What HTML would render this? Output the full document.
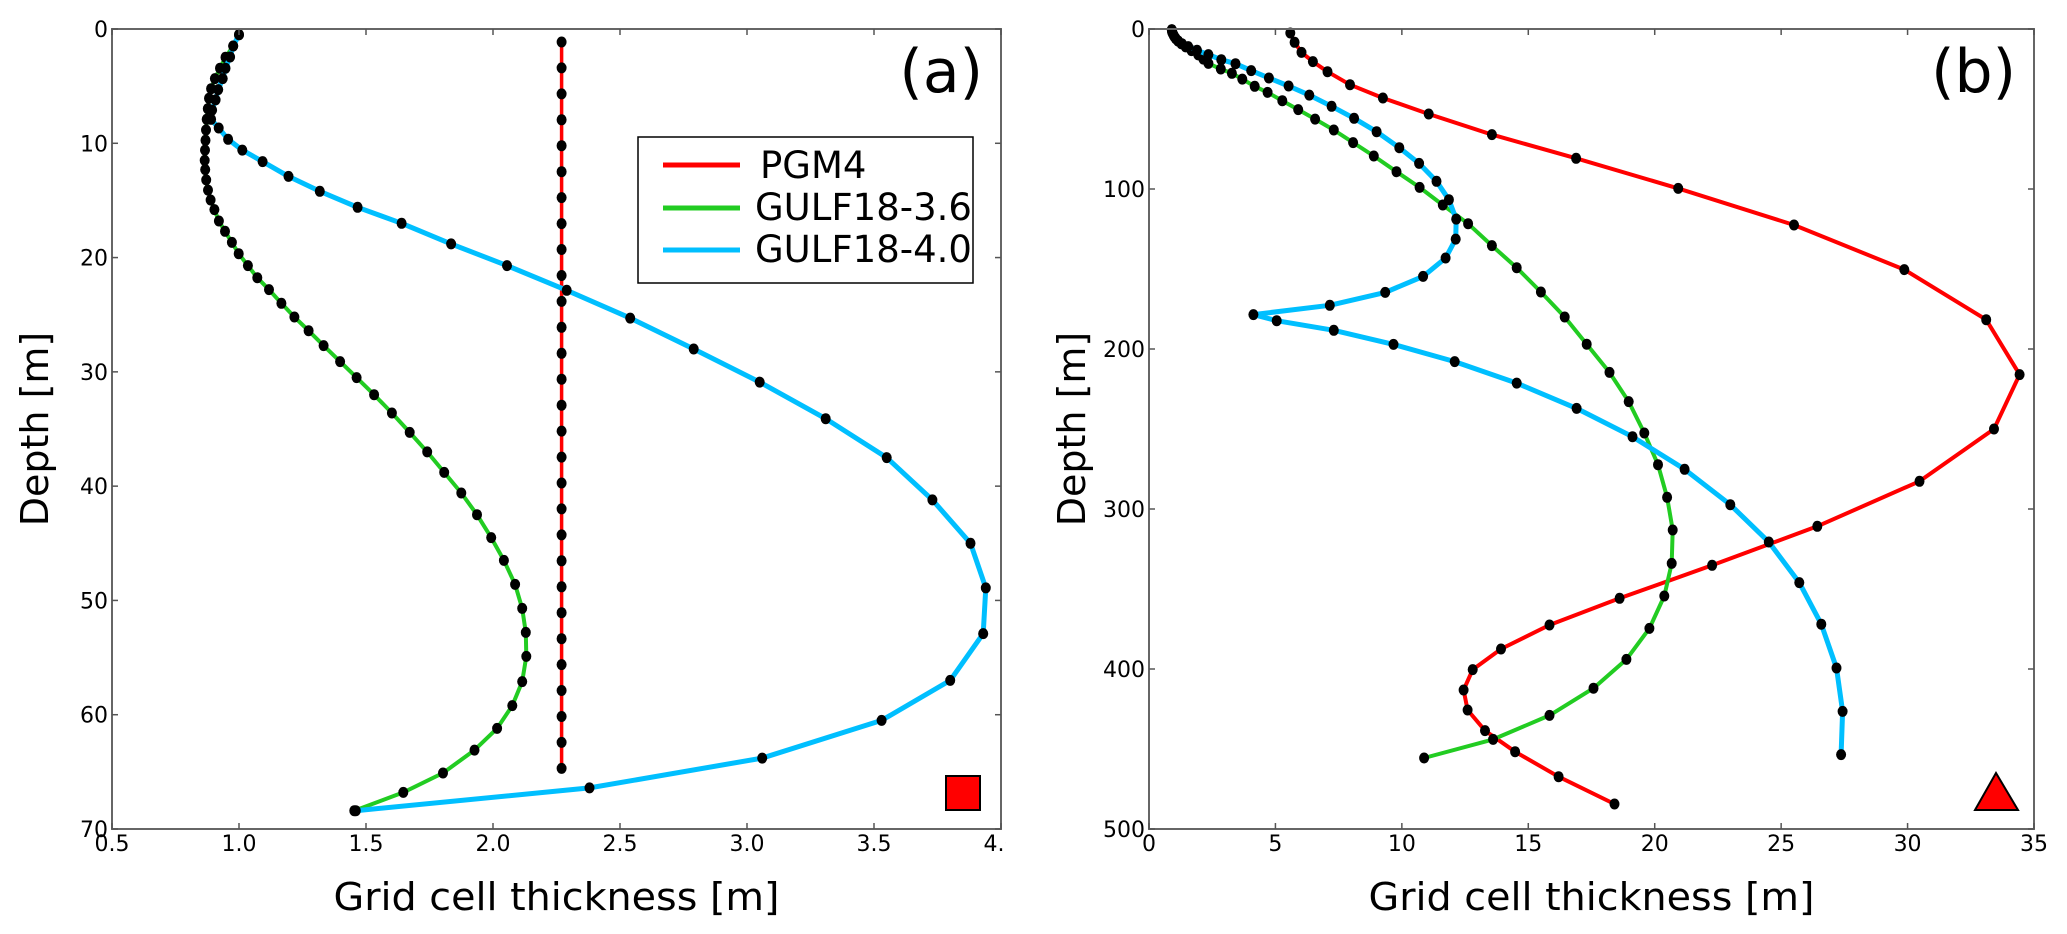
<!DOCTYPE html>
<html><head><meta charset="utf-8"><title>Grid cell thickness profiles</title>
<style>
html,body{margin:0;padding:0;background:#fff;}
svg{display:block;font-family:"DejaVu Sans","Liberation Sans",sans-serif;}
</style></head>
<body>
<svg id="fig" width="2067" height="934" viewBox="0 0 2067 934" xmlns="http://www.w3.org/2000/svg">
<defs><clipPath id="clipA"><rect x="0" y="0" width="1006" height="934"/></clipPath></defs>
<rect x="0" y="0" width="2067" height="934" fill="#fff"/>
<g id="panelA"></g>
<g id="panelB"></g>
</svg>
<script>
// ---- Panel (a) data ----
const aXTicks = [0.5, 1.0, 1.5, 2.0, 2.5, 3.0, 3.5, 4.0];
const aXTickLabels = ["0.5","1.0","1.5","2.0","2.5","3.0","3.5","4.0"];
const aYTicks = [0, 10, 20, 30, 40, 50, 60, 70];
const aPgmDepth = [1.135,3.405,5.675,7.945,10.215,12.485,14.755,17.025,19.295,21.565,23.835,26.105,28.375,30.645,32.915,35.185,37.455,39.725,41.995,44.265,46.535,48.805,51.075,53.345,55.615,57.885,60.155,62.425,64.695];
const aPgmValue = [2.27,2.27,2.27,2.27,2.27,2.27,2.27,2.27,2.27,2.27,2.27,2.27,2.27,2.27,2.27,2.27,2.27,2.27,2.27,2.27,2.27,2.27,2.27,2.27,2.27,2.27,2.27,2.27,2.27];
const aG36Depth = [0.5,1.49,2.48,3.43,4.34,5.22,6.06,6.97,7.9,8.84,9.74,10.6,11.5,12.3,13.2,14.1,14.96,15.8,16.8,17.7,18.67,19.66,20.7,21.76,22.8,24.0,25.2,26.4,27.7,29.1,30.5,32.0,33.6,35.3,37.0,38.8,40.6,42.5,44.5,46.5,48.6,50.7,52.8,54.9,57.1,59.2,61.2,63.1,65.1,66.8,68.4];
const aG36Value = [1.0,0.977,0.947,0.925,0.905,0.89,0.882,0.877,0.873,0.87,0.868,0.866,0.865,0.867,0.871,0.878,0.888,0.903,0.921,0.945,0.972,0.999,1.035,1.072,1.118,1.167,1.218,1.274,1.333,1.398,1.463,1.532,1.602,1.672,1.741,1.808,1.875,1.937,1.993,2.043,2.087,2.115,2.129,2.131,2.115,2.076,2.016,1.927,1.803,1.647,1.454];
const aG40Depth = [0.5,1.49,2.45,3.43,4.34,5.3,6.2,7.1,7.9,8.66,9.65,10.6,11.6,12.9,14.2,15.6,17.0,18.8,20.7,22.86,25.3,28.0,30.9,34.1,37.5,41.2,45.0,48.9,52.9,57.0,60.5,63.8,66.4,68.4];
const aG40Value = [1.0,0.977,0.965,0.947,0.936,0.918,0.908,0.894,0.89,0.92,0.957,1.013,1.093,1.195,1.318,1.467,1.64,1.835,2.055,2.29,2.54,2.79,3.05,3.31,3.55,3.73,3.88,3.94,3.93,3.80,3.53,3.06,2.38,1.46];

// ---- Panel (b) data ----
const bXTicks = [0, 5, 10, 15, 20, 25, 30, 35];
const bYTicks = [0, 100, 200, 300, 400, 500];
const bPgmDepth = [2.5,8.3,14.6,20.4,26.7,34.8,43.1,53.1,66,80.8,99.6,122.5,150.4,181.7,216,250,282.7,310.8,335.2,355.8,372.5,387.5,400.4,413.1,425.6,438.5,451.7,467.3,484.4];
const bPgmValue = [5.59,5.76,6.03,6.48,7.06,7.95,9.25,11.06,13.56,16.89,20.93,25.51,29.87,33.11,34.43,33.42,30.47,26.43,22.27,18.61,15.84,13.92,12.8,12.44,12.6,13.29,14.48,16.2,18.41];
const bG36Depth = [0.5,1.4,2.4,3.5,4.7,6.0,7.5,9.2,11.2,13.5,16.2,18.8,21.5,25,27.7,31.3,35.8,39.6,44.8,50.4,56.3,63.1,71,79.4,89.2,99,110,121.7,135.4,149.2,164.4,180,197,214.6,232.9,252.5,272.3,292.7,313.1,334,354.4,374.6,394,412,429,444,455.6];
const bG36Value = [0.9,0.91,0.93,0.96,1.0,1.06,1.15,1.28,1.45,1.68,1.95,2.15,2.35,2.84,3.28,3.69,4.18,4.69,5.27,5.9,6.57,7.31,8.07,8.89,9.79,10.7,11.62,12.62,13.56,14.54,15.5,16.44,17.31,18.21,18.97,19.59,20.13,20.49,20.71,20.67,20.38,19.79,18.88,17.58,15.84,13.61,10.88];
const bG40Depth = [0.5,1.4,2.4,3.5,4.7,6.0,7.5,9.2,11.0,13.3,16.0,19.2,21.7,26,30.6,35.6,41.3,48.3,55.8,64.2,74.2,84,95.2,106.7,118.8,131.3,143.1,154.6,164.6,172.7,178.5,182.3,188.3,197.1,207.9,221.3,237.1,254.8,275.2,297.3,320.6,346,372,399.4,426.5,453.5];
const bG40Value = [0.9,0.91,0.93,0.96,1.0,1.06,1.15,1.3,1.55,1.9,2.35,2.86,3.42,4.04,4.74,5.52,6.34,7.22,8.11,9.0,9.9,10.68,11.37,11.86,12.15,12.13,11.73,10.84,9.34,7.15,4.13,5.05,7.31,9.67,12.09,14.54,16.91,19.12,21.18,22.99,24.51,25.72,26.59,27.19,27.43,27.37];

const NS = "http://www.w3.org/2000/svg";
const RED = "#ff0000", GREEN = "#22cc22", BLUE = "#00bfff";

// axis functions
const A = {x0:112, x1:1001, y0:29, y1:829, xmin:0.5, xmax:4.0, ymin:0, ymax:70};
const B = {x0:1149, x1:2034, y0:29, y1:829, xmin:0, xmax:35, ymin:0, ymax:500};
function sx(ax, v){ return ax.x0 + (v - ax.xmin) / (ax.xmax - ax.xmin) * (ax.x1 - ax.x0); }
function sy(ax, d){ return ax.y0 + (d - ax.ymin) / (ax.ymax - ax.ymin) * (ax.y1 - ax.y0); }

function mk(tag, attrs, parent){
  const e = document.createElementNS(NS, tag);
  for (const k in attrs) e.setAttribute(k, attrs[k]);
  parent.appendChild(e);
  return e;
}

function drawSeries(g, ax, depth, value, color, width, name){
  const pts = depth.map((d,i) => sx(ax, value[i]).toFixed(1) + "," + sy(ax, d).toFixed(1)).join(" ");
  const line = mk("polyline", {points: pts, fill:"none", stroke:color, "stroke-width":width, "stroke-linejoin":"round"}, g);
  
  
  depth.forEach((d,i) => {
    const c = mk("ellipse", {cx: sx(ax, value[i]).toFixed(1), cy: sy(ax, d).toFixed(1), rx:5, ry:5.5, fill:"#000"}, g);
    
    
  });
}

function drawAxes(g, ax, xticks, xlabels, yticks, label, clip){
  // ticks
  xticks.forEach((v,i) => {
    const x = sx(ax, v);
    const t1 = mk("line", {x1:x, y1:ax.y1, x2:x, y2:ax.y1-6, stroke:"#555", "stroke-width":1.5}, g);
    
    
    const t2 = mk("line", {x1:x, y1:ax.y0, x2:x, y2:ax.y0+6, stroke:"#555", "stroke-width":1.5}, g);
    
    
    const tl = mk("text", {x:x, y:851, "text-anchor":"middle", "font-size":22, fill:"#000"}, g);
    if (clip) tl.setAttribute("clip-path", clip);
    tl.textContent = xlabels[i];
    
    
  });
  yticks.forEach(v => {
    const y = sy(ax, v);
    const t1 = mk("line", {x1:ax.x0, y1:y, x2:ax.x0+6, y2:y, stroke:"#555", "stroke-width":1.5}, g);
    
    
    const t2 = mk("line", {x1:ax.x1, y1:y, x2:ax.x1-6, y2:y, stroke:"#555", "stroke-width":1.5}, g);
    
    
    const tl = mk("text", {x:ax.x0-4, y:y+8, "text-anchor":"end", "font-size":22, fill:"#000"}, g);
    tl.textContent = String(v);
    
    
  });
}

function frame(g, ax){
  const r = mk("rect", {x:ax.x0, y:ax.y0, width:ax.x1-ax.x0, height:ax.y1-ax.y0, fill:"none", stroke:"#666", "stroke-width":2}, g);
  
  
}

function labels(g, ax, tag){
  const cx = (ax.x0 + ax.x1) / 2, cy = (ax.y0 + ax.y1) / 2;
  const xl = mk("text", {x:cx, y:910, "text-anchor":"middle", "font-size":38, fill:"#000", textLength:446, lengthAdjust:"spacingAndGlyphs"}, g);
  xl.textContent = "Grid cell thickness [m]";
  
  
  const yx = ax.x0 - 64;
  const yl = mk("text", {x:yx, y:cy, "text-anchor":"middle", "font-size":38, fill:"#000", transform:"rotate(-90 "+yx+" "+cy+")"}, g);
  yl.textContent = "Depth [m]";
  
  
  const pl = mk("text", {x:ax.x1-18, y:92, "text-anchor":"end", "font-size":60, fill:"#000"}, g);
  pl.textContent = tag;
  
  
}

// Panel A
const gA = document.getElementById("panelA");
drawSeries(gA, A, aPgmDepth, aPgmValue, RED, 3.5, "pgm4");
drawSeries(gA, A, aG36Depth, aG36Value, GREEN, 4, "gulf18-3-6");
drawSeries(gA, A, aG40Depth, aG40Value, BLUE, 5, "gulf18-4-0");
frame(gA, A);
drawAxes(gA, A, aXTicks, aXTickLabels, aYTicks, "a", "url(#clipA)");
labels(gA, A, "(a)");
const sq = mk("rect", {x:946, y:776, width:34, height:34, fill:"#ff0000", stroke:"#000", "stroke-width":2}, gA);



// Legend
const lg = mk("g", {}, gA);


const lbox = mk("rect", {x:638, y:137, width:335, height:146, fill:"#fff", stroke:"#000", "stroke-width":1.5}, lg);


const legNames = ["PGM4", "GULF18-3.6", "GULF18-4.0"];
const legColors = [RED, GREEN, BLUE];
const legY = [165, 208, 250];
const legText = [178, 220, 262];
const legX = [760, 755, 755];
legNames.forEach((n,i) => {
  const ln = mk("line", {x1:663, y1:legY[i], x2:740, y2:legY[i], stroke:legColors[i], "stroke-width":5}, lg);
  
  
  const tx = mk("text", {x:legX[i], y:legText[i], "font-size":37, fill:"#000"}, lg);
  tx.textContent = n;
  
  
});

// Panel B
const gB = document.getElementById("panelB");
drawSeries(gB, B, bPgmDepth, bPgmValue, RED, 4, "pgm4");
drawSeries(gB, B, bG36Depth, bG36Value, GREEN, 4, "gulf18-3-6");
drawSeries(gB, B, bG40Depth, bG40Value, BLUE, 5, "gulf18-4-0");
frame(gB, B);
drawAxes(gB, B, bXTicks, bXTicks.map(String), bYTicks, "b", null);
labels(gB, B, "(b)");
const tri = mk("polygon", {points:"1996,773 1975,810 2018,810", fill:"#ff0000", stroke:"#000", "stroke-width":2}, gB);


</script>
</body></html>
